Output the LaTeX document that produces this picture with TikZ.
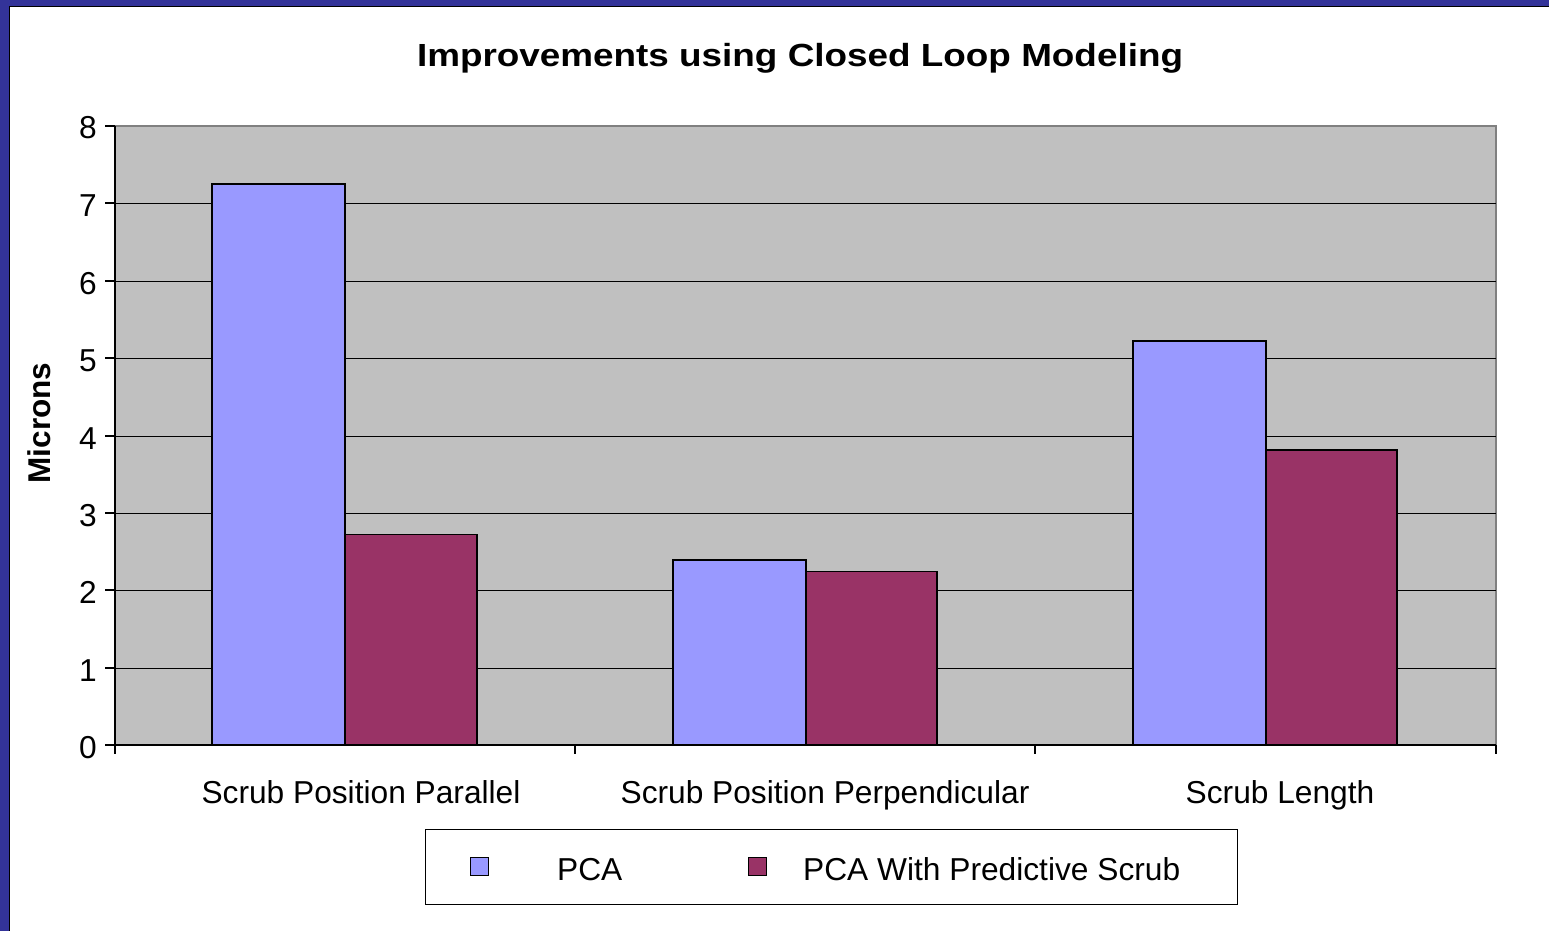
\documentclass[tikz,border=0pt]{standalone}
\usepackage{fontspec}
\setmainfont{Liberation Sans}
\definecolor{frameblue}{HTML}{333399}
\definecolor{plotgrey}{HTML}{C0C0C0}
\definecolor{bordergrey}{HTML}{808080}
\definecolor{pcacol}{HTML}{9999FF}
\definecolor{predcol}{HTML}{993366}
\tikzset{
  lbl/.style={inner sep=0pt, font=\fontsize{31.7}{38}\selectfont},
  ticklbl/.style={lbl, anchor=base east},
  catlbl/.style={lbl, anchor=base},
  bar/.style={draw=black, line width=1.5pt},
  grid line/.style={draw=black, line width=1pt},
  marker/.style={draw=black, line width=1.5pt, minimum size=18pt, inner sep=0pt}
}
\begin{document}
\begin{tikzpicture}[x=1pt,y=-1pt]
\useasboundingbox (0,0) rectangle (1549,931);
% background and frame
\fill[white] (0,0) rectangle (1549,931);
\fill[frameblue] (0,0) rectangle (1549,6);
\fill[frameblue] (0,0) rectangle (9,931);
\draw[black, line width=1.2pt] (9.6,931) -- (9.6,6.6) -- (1549,6.6);
% plot area
\fill[plotgrey] (115,126) rectangle (1496,745);
\draw[bordergrey, line width=1.5pt] (115,126) -- (1496,126) -- (1496,745);
% gridlines
\foreach \yy in {203,281,358,436,513,590,668}
  \draw[grid line] (115,\yy) -- (1496,\yy);
% bars
\draw[bar, fill=pcacol] (212,745) rectangle (345,184.0);
\draw[bar, fill=predcol] (345,745) rectangle (477,534.5);
\draw[bar, fill=pcacol] (673,745) rectangle (806,560.1);
\draw[bar, fill=predcol] (806,745) rectangle (937,571.7);
\draw[bar, fill=pcacol] (1133,745) rectangle (1266,341.1);
\draw[bar, fill=predcol] (1266,745) rectangle (1397,450.2);
% axes
\draw[black, line width=1.3pt] (115,126) -- (115,745) -- (1496,745);
\foreach \yy in {126,203,281,358,436,513,590,668,745}
  \draw[black, line width=1.2pt] (105,\yy) -- (115,\yy);
\foreach \xx in {115,575,1035,1496}
  \draw[black, line width=1.2pt] (\xx,745) -- (\xx,754);
% y tick labels
\foreach \v/\yy in {0/745,1/668,2/590,3/513,4/436,5/358,6/281,7/203,8/126}
  \node[ticklbl] (t\v) at (97,\yy+13) {\v};
% category labels
\node[catlbl] (c1) at (361,803) {Scrub Position Parallel};
\node[catlbl] (c2) at (825,803) {Scrub Position Perpendicular};
\node[catlbl] (c3) at (1280,803) {Scrub Length};
% title
\node[inner sep=0pt, anchor=base] (title) at (800,67)
  {\scalebox{1.152}[1]{\fontsize{32}{38}\selectfont\bfseries Improvements using Closed Loop Modeling}};
% y axis label
\node[inner sep=0pt, anchor=base, rotate=90, font=\fontsize{31.5}{38}\selectfont\bfseries] (ylab) at (50,423) {Microns};
% legend
\node[draw=black, line width=1.3pt, minimum width=812pt, minimum height=75pt, inner sep=0pt, anchor=north west] (legend) at (424.5,829) {};
\node[marker, fill=pcacol] (m1) at (479.5,866.5) {};
\node[marker, fill=predcol] (m2) at (757.5,866.5) {};
\node[lbl, anchor=base west] (l1) at (557,880) {PCA};
\node[lbl, anchor=base west] (l2) at (803,880) {PCA With Predictive Scrub};
\end{tikzpicture}
\end{document}
